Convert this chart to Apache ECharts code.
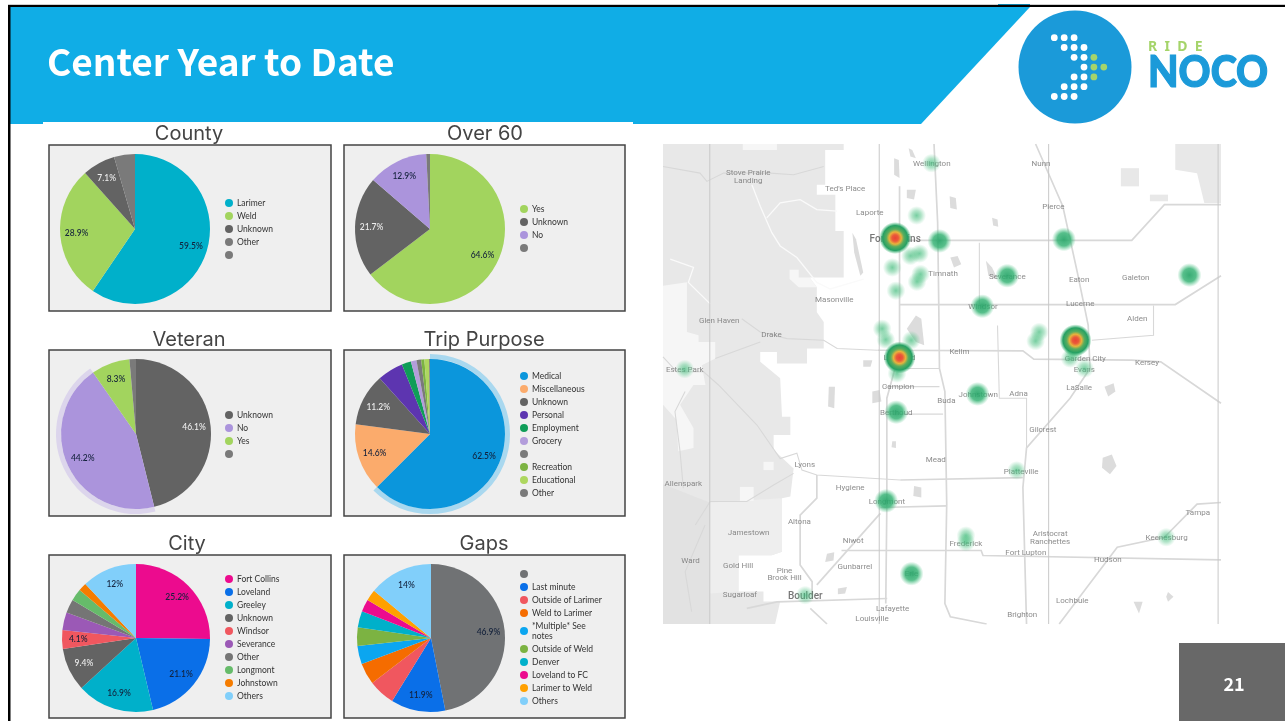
<!DOCTYPE html>
<html>
<head>
<meta charset="utf-8">
<title>Center Year to Date</title>
<script src="https://cdn.jsdelivr.net/npm/echarts@6/dist/echarts.min.js"></script>
<style>
  html, body { margin: 0; padding: 0; background: #fff; }
  #chart { width: 1285px; height: 721px; }
</style>
</head>
<body>
<div id="chart"></div>
<script>
// pie data, all in percent
const countyNames = ["Larimer", "Weld", "Unknown", "Other", " "];
const countyValues = [59.5, 28.9, 7.1, 4.5, 0];
const countyColors = ["#00b0ca", "#a2d45e", "#636363", "#7a7a7a", "#7a7a7a"];

const over60Names = ["Yes", "Unknown", "No", " "];
const over60Values = [64.6, 21.7, 12.9, 0.8];
const over60Colors = ["#a2d45e", "#636363", "#ab94dc", "#7a7a7a"];

const veteranNames = ["Unknown", "No", "Yes", " "];
const veteranValues = [46.1, 44.2, 8.3, 1.4];
const veteranColors = ["#636363", "#ab94dc", "#a2d45e", "#7a7a7a"];

const tripNames = ["Medical", "Miscellaneous", "Unknown", "Personal", "Employment", "Grocery", " ", "Recreation", "Educational", "Other"];
const tripValues = [62.5, 14.6, 11.2, 5.6, 2, 1.2, 1, 0.7, 1, 0.2];
const tripColors = ["#0b96dc", "#fbab6c", "#636363", "#5d35b0", "#0f9d58", "#b39ddb", "#7a7a7a", "#7cb342", "#aed75f", "#7a7a7a"];

const cityNames = ["Fort Collins", "Loveland", "Greeley", "Unknown", "Windsor", "Severance", "Other", "Longmont", "Johnstown", "Others"];
const cityValues = [25.2, 21.1, 16.9, 9.4, 4.1, 3.9, 3, 2.6, 1.8, 12];
const cityColors = ["#ec0b8e", "#0a6fe8", "#00b0ca", "#636363", "#f0575f", "#9b59b6", "#757575", "#66bb6a", "#f57c00", "#81cffa"];

const gapsNames = [" ", "Last minute", "Outside of Larimer", "Weld to Larimer", "*Multiple* See\nnotes", "Outside of Weld", "Denver", "Loveland to FC", "Larimer to Weld", "Others"];
const gapsValues = [46.9, 11.9, 5.8, 4.7, 4, 4, 3.6, 2.7, 2.4, 14];
const gapsColors = ["#707274", "#0a6fe8", "#f0575f", "#f56c00", "#0ba6f0", "#7cb342", "#00b0ca", "#ec0b8e", "#ffa000", "#81cffa"];

// which slices carry a percent label
const countyLabelled = ["Larimer", "Weld", "Unknown"];
const over60Labelled = ["Yes", "Unknown", "No"];
const veteranLabelled = ["Unknown", "No", "Yes"];
const tripLabelled = ["Medical", "Miscellaneous", "Unknown"];
const cityLabelled = ["Fort Collins", "Loveland", "Greeley", "Unknown", "Windsor", "Others"];
const gapsLabelled = [" ", "Last minute", "Others"];

// map data, in map units
const mapPlaces = [
  ["Stove Prairie", 243, 100], ["Landing", 243, 124], ["Wellington", 749, 72], ["Nunn", 1050, 72],
  ["Ted's Place", 510, 148], ["Pierce", 1084, 202], ["Laporte", 578, 220], ["Timnath", 780, 404],
  ["Severance", 957, 415], ["Eaton", 1155, 424], ["Galeton", 1311, 418], ["Masonville", 480, 484],
  ["Windsor", 890, 504], ["Lucerne", 1158, 496], ["Alden", 1315, 541], ["Glen Haven", 163, 547],
  ["Drake", 307, 589], ["Greeley", 1145, 606], ["Kelim", 825, 641], ["Loveland", 660, 658],
  ["Garden City", 1172, 662], ["Kersey", 1342, 674], ["Estes Park", 68, 694], ["Evans", 1169, 694],
  ["Campion", 656, 746], ["LaSalle", 1155, 748], ["Johnstown", 877, 770], ["Adna", 988, 766],
  ["Buda", 789, 787], ["Berthoud", 651, 826], ["Gilcrest", 1055, 875], ["Mead", 760, 966],
  ["Lyons", 399, 983], ["Platteville", 995, 1002], ["Allenspark", 64, 1040], ["Hygiene", 524, 1050],
  ["Longmont", 625, 1092], ["Tampa", 1482, 1126], ["Altona", 384, 1155], ["Jamestown", 244, 1188],
  ["Aristocrat", 1075, 1189], ["Ranchettes", 1075, 1213], ["Keenesburg", 1396, 1203], ["Niwot", 532, 1210],
  ["Frederick", 843, 1220], ["Fort Lupton", 1008, 1248], ["Hudson", 1234, 1268], ["Ward", 84, 1272],
  ["Gold Hill", 215, 1288], ["Gunbarrel", 537, 1291], ["Pine", 343, 1301], ["Brook Hill", 343, 1324],
  ["Erie", 693, 1310], ["Sugarloaf", 220, 1375], ["Lochbuie", 1136, 1392], ["Lafayette", 641, 1418],
  ["Brighton", 998, 1434], ["Louisville", 584, 1447]
];
const mapBigPlaces = [["Fort Collins", 648, 299], ["Boulder", 400, 1379]];

const hotSpots = [[648, 296], [660, 657], [1145, 605]];
const midSpots = [[770, 305], [1113, 300], [957, 410], [888, 502], [875, 767], [623, 1090], [1459, 408], [693, 1310], [651, 822]];
const faintSpots = [
  [707, 228], [748, 70], [640, 385], [650, 455], [612, 570], [622, 603], [690, 350], [715, 343],
  [718, 405], [708, 428], [692, 605], [1045, 580], [1035, 607], [653, 705], [68, 692], [983, 998],
  [843, 1195], [843, 1215], [1395, 1200], [400, 1375], [1130, 660], [1170, 690], [1140, 640]
];

const mountainAreas = [
  [[8, 12], [506, 12], [506, 30], [455, 30], [455, 135], [432, 135], [432, 165], [483, 165], [483, 275], [506, 275], [506, 415], [412, 415], [432, 445], [432, 520], [451, 550], [451, 630], [405, 630], [405, 675], [322, 675], [322, 640], [276, 640], [276, 670], [331, 720], [336, 836], [359, 836], [359, 891], [313, 891], [313, 936], [368, 992], [359, 1077], [336, 1082], [336, 1244], [308, 1254], [216, 1254], [216, 1364], [285, 1364], [285, 1394], [331, 1394], [317, 1462], [8, 1462]],
  [[1420, 12], [1546, 12], [1546, 190], [1500, 190], [1480, 100], [1420, 90]],
  [[1270, 85], [1320, 85], [1320, 140], [1270, 140]],
  [[1350, 165], [1400, 165], [1400, 185], [1350, 185]]
];
const foothillAreas = [
  [[137, 1095], [336, 1082], [336, 1244], [308, 1254], [216, 1254], [216, 1364], [137, 1370]]
];
const darkAreas = [
  [[8, 1040], [137, 1095], [137, 1462], [8, 1462]]
];
const lightAreas = [
  [[357, 392], [382, 392], [382, 415], [412, 415], [432, 445], [382, 445], [357, 420]],
  [[8, 440], [74, 430], [74, 580], [106, 590], [106, 610], [152, 610], [152, 660], [115, 680], [125, 740], [92, 740], [55, 800], [92, 870], [92, 930], [50, 940], [45, 845], [8, 800]],
  [[220, 1048], [258, 1048], [258, 1090], [220, 1090]],
  [[285, 972], [313, 972], [313, 997], [285, 997]],
  [[228, 12], [322, 12], [322, 30], [228, 30]]
];
const lakes = [
  [[1220, 960], [1245, 950], [1258, 985], [1240, 1010], [1218, 990]],
  [[1225, 745], [1250, 735], [1255, 760], [1235, 775]],
  [[798, 170], [815, 175], [818, 210], [800, 205]],
  [[915, 235], [930, 240], [932, 262], [918, 258]],
  [[800, 355], [820, 350], [830, 375], [810, 385]],
  [[898, 365], [915, 385], [930, 420], [905, 410]],
  [[705, 530], [720, 540], [728, 620], [705, 610], [680, 570]],
  [[465, 745], [482, 745], [480, 810], [463, 805]],
  [[585, 760], [605, 755], [610, 790], [585, 795]],
  [[700, 1045], [720, 1050], [720, 1080], [698, 1075]],
  [[1400, 1365], [1415, 1380], [1400, 1395], [1395, 1380]],
  [[1305, 1395], [1330, 1395], [1320, 1430]],
  [[645, 55], [658, 60], [660, 115], [645, 105]],
  [[685, 25], [695, 30], [705, 55], [690, 50]],
  [[680, 150], [705, 150], [700, 180], [680, 175]],
  [[530, 280], [540, 300], [560, 400], [552, 410], [535, 340]],
  [[560, 665], [585, 665], [580, 685], [560, 685]],
  [[640, 910], [650, 910], [650, 930], [638, 928]],
  [[460, 1250], [480, 1245], [478, 1270], [455, 1275]],
  [[490, 1355], [515, 1350], [510, 1370], [490, 1372]]
];
const countyLines = [
  [[137, 12], [137, 1462]], [[604, 12], [604, 1462]], [[1071, 12], [1071, 1462]], [[1538, 12], [1538, 1462]]
];
const majorRoads = [
  [[755, 12], [765, 250], [768, 490], [770, 690], [785, 760], [790, 1100], [785, 1400], [800, 1440], [900, 1462]],
  [[660, 140], [660, 640], [625, 780], [625, 1100], [622, 1400]],
  [[660, 303], [1300, 303], [1390, 195], [1546, 195]],
  [[600, 635], [1000, 637], [1030, 662], [1300, 665], [1380, 670], [1546, 795]],
  [[660, 497], [1420, 497], [1546, 410]],
  [[1035, 12], [1110, 200], [1150, 400], [1180, 560], [1185, 690], [1130, 780], [1010, 930], [1000, 1050], [1010, 1462]],
  [[662, 1027], [1000, 1020]],
  [[607, 1110], [790, 1105]],
  [[500, 1240], [885, 1240], [890, 1255], [1546, 1268]],
  [[1100, 1462], [1260, 1230], [1390, 1200], [1480, 1100], [1546, 1095]],
  [[239, 1415], [322, 1395], [626, 1385]],
  [[414, 1415], [460, 1462]],
  [[432, 1012], [432, 1082], [386, 1133], [386, 1284], [419, 1334], [419, 1385]],
  [[432, 1344], [607, 1128]]
];
const minorRoads = [
  [[8, 80], [110, 100], [129, 125], [175, 100], [304, 100], [368, 105], [451, 80]],
  [[225, 540], [276, 580], [350, 600], [451, 605], [488, 630], [600, 635]],
  [[152, 660], [276, 610]],
  [[8, 655], [46, 700], [120, 700], [161, 740], [267, 861], [331, 962], [377, 946], [391, 997], [432, 1012], [662, 1027]],
  [[69, 760], [41, 820], [55, 941], [64, 1052]],
  [[138, 1092], [156, 1092], [239, 1092], [313, 1042], [368, 1007]],
  [[97, 1163], [138, 1092]],
  [[124, 1163], [69, 1304], [87, 1425]],
  [[880, 310], [880, 500]],
  [[930, 560], [935, 780], [1010, 780], [1010, 930]],
  [[770, 745], [620, 745]],
  [[660, 690], [770, 690]],
  [[630, 828], [780, 828]],
  [[1360, 500], [1360, 590], [1190, 605]]
];
const whiteRoads = [
  [[253, 135], [276, 200], [308, 280], [331, 320], [377, 355], [432, 430], [469, 450], [561, 420]],
  [[294, 235], [331, 190], [386, 180], [432, 210], [488, 215]],
  [[28, 360], [92, 385], [78, 430], [138, 495]]
];

// logo dots, [column, row]
const logoWhiteDots = [
  [0, 0], [1, 0], [2, 0], [1, 1], [2, 1], [3, 1], [2, 2], [3, 2], [3, 3],
  [2, 4], [3, 4], [1, 5], [2, 5], [3, 5], [0, 6], [1, 6], [2, 6]
];
const logoGreenDots = [[4, 2], [4, 3], [5, 3], [4, 4]];

const chartFont = "Inter";
const legendFont = "Lato";

const pies = [
  { title: "County", titleX: 189, titleY: 124, box: [49, 145, 282, 166], center: [135, 229], r: 75, names: countyNames, values: countyValues, colors: countyColors, labelled: countyLabelled, legend: [225, 198] },
  { title: "Over 60", titleX: 485, titleY: 124, box: [344, 145, 281, 166], center: [430, 229], r: 75, names: over60Names, values: over60Values, colors: over60Colors, labelled: over60Labelled, legend: [520, 204] },
  { title: "Veteran", titleX: 189, titleY: 330, box: [49, 350, 282, 166], center: [136, 434], r: 75, names: veteranNames, values: veteranValues, colors: veteranColors, labelled: veteranLabelled, legend: [225, 410], halo: "No", haloColor: "#dcd5ec" },
  { title: "Trip Purpose", titleX: 484, titleY: 330, box: [344, 350, 281, 166], center: [430, 434], r: 75, names: tripNames, values: tripValues, colors: tripColors, labelled: tripLabelled, legend: [520, 371], halo: "Medical", haloColor: "#a9d8ef" },
  { title: "City", titleX: 187, titleY: 534, box: [49, 555, 282, 163], center: [136, 638], r: 74, names: cityNames, values: cityValues, colors: cityColors, labelled: cityLabelled, legend: [225, 574] },
  { title: "Gaps", titleX: 484, titleY: 534, box: [344, 555, 281, 163], center: [431, 638], r: 74, names: gapsNames, values: gapsValues, colors: gapsColors, labelled: gapsLabelled, legend: [520, 569] }
];

function pieSeries(p) {
  const list = [];
  if (p.halo) {
    list.push({
      type: "pie", silent: true, z: 3, center: p.center, radius: [p.r, p.r + 5],
      startAngle: 90, animation: false, label: { show: false }, labelLine: { show: false },
      data: p.names.map((n, i) => ({
        name: n, value: p.values[i],
        itemStyle: { color: n === p.halo ? p.haloColor : "rgba(0,0,0,0)" }
      }))
    });
  }
  list.push({
    type: "pie", silent: true, z: 4, center: p.center, radius: [0, p.r],
    startAngle: 90, animation: false, label: { show: false }, labelLine: { show: false },
    data: p.names.map((n, i) => ({ name: n, value: p.values[i], itemStyle: { color: p.colors[i] } }))
  });
  // clear ring on top, only to sit the labels out toward the rim
  list.push({
    type: "pie", silent: true, z: 5, center: p.center, radius: [p.r * 0.48, p.r],
    startAngle: 90, animation: false, labelLine: { show: false },
    data: p.names.map((n, i) => ({
      name: n, value: p.values[i],
      itemStyle: { color: "rgba(0,0,0,0)" },
      label: {
        show: p.labelled.indexOf(n) >= 0,
        position: "inner",
        formatter: "{c}%",
        fontFamily: legendFont,
        fontSize: 8.5,
        fontWeight: 500,
        color: n === "Unknown" ? "#eeeeee" : "#12203a"
      }
    }))
  });
  return list;
}

function polySeries(polys, color, z) {
  return {
    type: "custom", silent: true, z: z, animation: false,
    xAxisIndex: 0, yAxisIndex: 0,
    data: polys.map((poly, i) => [poly[0][0], poly[0][1], i]),
    renderItem: (params, api) => ({
      type: "polygon",
      shape: { points: polys[params.dataIndex].map((pt) => api.coord(pt)) },
      style: { fill: color }
    })
  };
}

function roadSeries(roads, color, width, z) {
  return {
    type: "lines", coordinateSystem: "cartesian2d", polyline: true, silent: true, z: z,
    animation: false,
    lineStyle: { color: color, width: width, opacity: 1 },
    data: roads.map((r) => ({ coords: r }))
  };
}

function spotSeries(spots, size, stops, z) {
  return {
    type: "scatter", silent: true, z: z, animation: false,
    symbolSize: size,
    itemStyle: {
      opacity: 1,
      color: new echarts.graphic.RadialGradient(0.5, 0.5, 0.5, stops)
    },
    data: spots
  };
}

function placeSeries(places, fontSize, fontWeight, color, z) {
  return {
    type: "scatter", silent: true, z: z, animation: false,
    symbolSize: 0,
    label: {
      show: true, position: "inside",
      formatter: (d) => d.name,
      fontFamily: "Roboto", fontSize: fontSize, fontWeight: fontWeight, color: color
    },
    data: places.map((p) => ({ name: p[0], value: [p[1], p[2]] }))
  };
}

const series = [];
pies.forEach((p) => series.push(...pieSeries(p)));
series.push(
  polySeries(mountainAreas, "#e8e8e8", 2),
  polySeries(foothillAreas, "#eeeeee", 2),
  polySeries(darkAreas, "#e2e2e2", 2),
  polySeries(lightAreas, "#f6f6f6", 3),
  polySeries(lakes, "#dcdcdc", 3),
  roadSeries(whiteRoads, "#fafafa", 1.3, 4),
  roadSeries(minorRoads, "#d8d8d8", 1.1, 4),
  roadSeries(majorRoads, "#d8d8d8", 1.7, 4),
  roadSeries(countyLines, "#c8c8c8", 1, 5),
  placeSeries(mapPlaces, 8, 400, "#6f6f6f", 6),
  placeSeries(mapBigPlaces, 10, 500, "#555555", 6),
  spotSeries(faintSpots, 19, [
    { offset: 0, color: "rgba(60,185,120,0.7)" },
    { offset: 0.5, color: "rgba(70,190,125,0.42)" },
    { offset: 1, color: "rgba(90,200,140,0)" }
  ], 7),
  spotSeries(midSpots, 24, [
    { offset: 0, color: "rgba(40,165,105,0.92)" },
    { offset: 0.55, color: "rgba(45,175,110,0.8)" },
    { offset: 1, color: "rgba(70,195,130,0)" }
  ], 8),
  spotSeries(hotSpots, 32, [
    { offset: 0, color: "#ea4335" },
    { offset: 0.2, color: "#ea5a3a" },
    { offset: 0.38, color: "#e8b33c" },
    { offset: 0.55, color: "#5aad5e" },
    { offset: 0.78, color: "#25a063" },
    { offset: 1, color: "rgba(50,180,110,0)" }
  ], 9)
);

const graphics = [
  { type: "rect", z: 0, shape: { x: 10, y: 7, width: 1275, height: 714 }, style: { fill: "#ffffff" } },
  { type: "polygon", z: 0, shape: { points: [[10, 7], [1030, 7], [921, 124], [10, 124]] }, style: { fill: "#10ade6" } },
  { type: "rect", z: 0, shape: { x: 43, y: 122, width: 590, height: 3 }, style: { fill: "#ffffff" } },
  { type: "rect", z: 1, shape: { x: 8, y: 4, width: 1277, height: 1 }, style: { fill: "#cfcfcf" } },
  { type: "rect", z: 1, shape: { x: 998, y: 4, width: 32, height: 1 }, style: { fill: "#0d7fa8" } },
  { type: "rect", z: 1, shape: { x: 8, y: 5, width: 1277, height: 2 }, style: { fill: "#000000" } },
  { type: "rect", z: 1, shape: { x: 8, y: 5, width: 2.5, height: 716 }, style: { fill: "#000000" } },
  { type: "text", z: 2, x: 47, y: 62, style: { text: "Center Year to Date", fill: "#ffffff", font: "bold 37px 'Noto Sans CJK SC'", textVerticalAlign: "middle" } },
  { type: "rect", z: 1, shape: { x: 1179, y: 643, width: 106, height: 78 }, style: { fill: "#686868" } },
  { type: "text", z: 2, x: 1234, y: 684, style: { text: "21", fill: "#ffffff", font: "bold 18px 'Noto Sans CJK SC'", textAlign: "center", textVerticalAlign: "middle" } },
  { type: "circle", z: 1, shape: { cx: 1075, cy: 67, r: 56.5 }, style: { fill: "#1b9ad9" } },
  { type: "text", z: 2, x: 1148, y: 47, style: { text: "R  I  D  E", fill: "#a5d46a", font: "bold 14px 'Noto Sans'", textVerticalAlign: "middle" } },
  { type: "text", z: 2, x: 1148, y: 73, scaleX: 0.92, style: { text: "NOCO", fill: "#1b9ad9", stroke: "#1b9ad9", lineWidth: 1.2, font: "900 43px Lato", textVerticalAlign: "middle" } }
];
logoWhiteDots.forEach((d) => graphics.push({ type: "circle", z: 2, shape: { cx: 1054.3 + d[0] * 9.9, cy: 37.7 + d[1] * 9.8, r: 3.4 }, style: { fill: "#ffffff" } }));
logoGreenDots.forEach((d) => graphics.push({ type: "circle", z: 2, shape: { cx: 1054.3 + d[0] * 9.9, cy: 37.7 + d[1] * 9.8, r: 3.4 }, style: { fill: "#a5d46a" } }));
pies.forEach((p) => graphics.push({
  type: "rect", z: 1,
  shape: { x: p.box[0], y: p.box[1], width: p.box[2], height: p.box[3] },
  style: { fill: "#efefef", stroke: "#444444", lineWidth: 1.5 }
}));

const option = {
  animation: false,
  backgroundColor: "#ffffff",
  graphic: graphics,
  title: pies.map((p) => ({
    text: p.title, left: p.titleX, top: p.titleY, textAlign: "center", padding: 0,
    textStyle: { fontFamily: chartFont, fontSize: 20, fontWeight: 400, color: "#444444" }
  })),
  legend: pies.map((p) => ({
    left: p.legend[0], top: p.legend[1], orient: "vertical", padding: 0,
    icon: "circle", itemWidth: 8, itemHeight: 8, itemGap: 3, selectedMode: false,
    textStyle: { fontFamily: legendFont, fontSize: 8.5, lineHeight: 10, color: "#333333", padding: [0, 0, 0, -1] },
    data: p.names.map((n, i) => ({ name: n, itemStyle: { color: p.colors[i] } }))
  })),
  grid: { left: 663, top: 144, width: 558, height: 480, show: true, backgroundColor: "#f7f7f7", borderWidth: 0 },
  xAxis: { type: "value", min: 8, max: 1546, show: false },
  yAxis: { type: "value", min: 12, max: 1462, inverse: true, show: false },
  series: series
};

const myChart = echarts.init(document.getElementById("chart"));
myChart.setOption(option);
</script>
</body>
</html>
